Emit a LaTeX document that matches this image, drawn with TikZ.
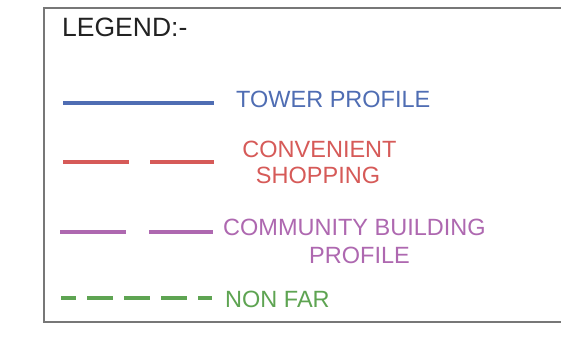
\documentclass[tikz,border=0pt]{standalone}
\usepackage{fontspec}
\setmainfont{Liberation Sans}
\definecolor{tblue}{HTML}{4F6DB3}
\definecolor{tred}{HTML}{D65A58}
\definecolor{tpurple}{HTML}{AE68B0}
\definecolor{tgreen}{HTML}{5EA452}
\definecolor{tframe}{HTML}{777777}
\definecolor{ttext}{HTML}{222222}
\begin{document}
\begin{tikzpicture}[x=1pt,y=-1pt,
  lbl/.style={inner sep=0pt,font=\fontsize{23.5}{28}\selectfont},
  title/.style={inner sep=0pt,font=\fontsize{26.5}{30}\selectfont,text=ttext},
  legline/.style={line width=3.4pt},
]
\useasboundingbox (0,0) rectangle (561,337);
\fill[white] (0,0) rectangle (561,337);
\draw[tframe,line width=1.2pt] (575,8) -- (44,8) -- (44,322) -- (575,322);
\node[title,anchor=base west] (legend) at (62,37) {LEGEND:-};
% tower
\coordinate (t1) at (63,103);
\coordinate (t2) at (214,103);
\draw[legline,tblue] (t1) -- (t2);
\node[lbl,anchor=base west,text=tblue] (tower) at (236,107) {TOWER PROFILE};
% convenient shopping
\coordinate (c1) at (63,162);
\coordinate (c2) at (129,162);
\coordinate (c3) at (150,162);
\coordinate (c4) at (214,162);
\draw[legline,tred] (c1) -- (c2) (c3) -- (c4);
\node[lbl,anchor=base,text=tred] (conv) at (319.5,157) {CONVENIENT};
\node[lbl,anchor=base,text=tred] (shop) at (318,183) {SHOPPING};
% community
\coordinate (m1) at (60,232);
\coordinate (m2) at (126,232);
\coordinate (m3) at (149,232);
\coordinate (m4) at (213,232);
\draw[legline,tpurple] (m1) -- (m2) (m3) -- (m4);
\node[lbl,anchor=base west,text=tpurple] (comm) at (223,235) {COMMUNITY BUILDING};
\node[lbl,anchor=base,text=tpurple] (prof) at (359.5,263) {PROFILE};
% non far
\coordinate (g1) at (61,298);
\coordinate (g2) at (212,298);
\draw[line width=4.5pt,tgreen,dash pattern=on 26pt off 11pt,dash phase=11pt] (g1) -- (g2);
\node[lbl,anchor=base west,text=tgreen] (nonfar) at (225,307) {NON FAR};
\end{tikzpicture}
\end{document}
